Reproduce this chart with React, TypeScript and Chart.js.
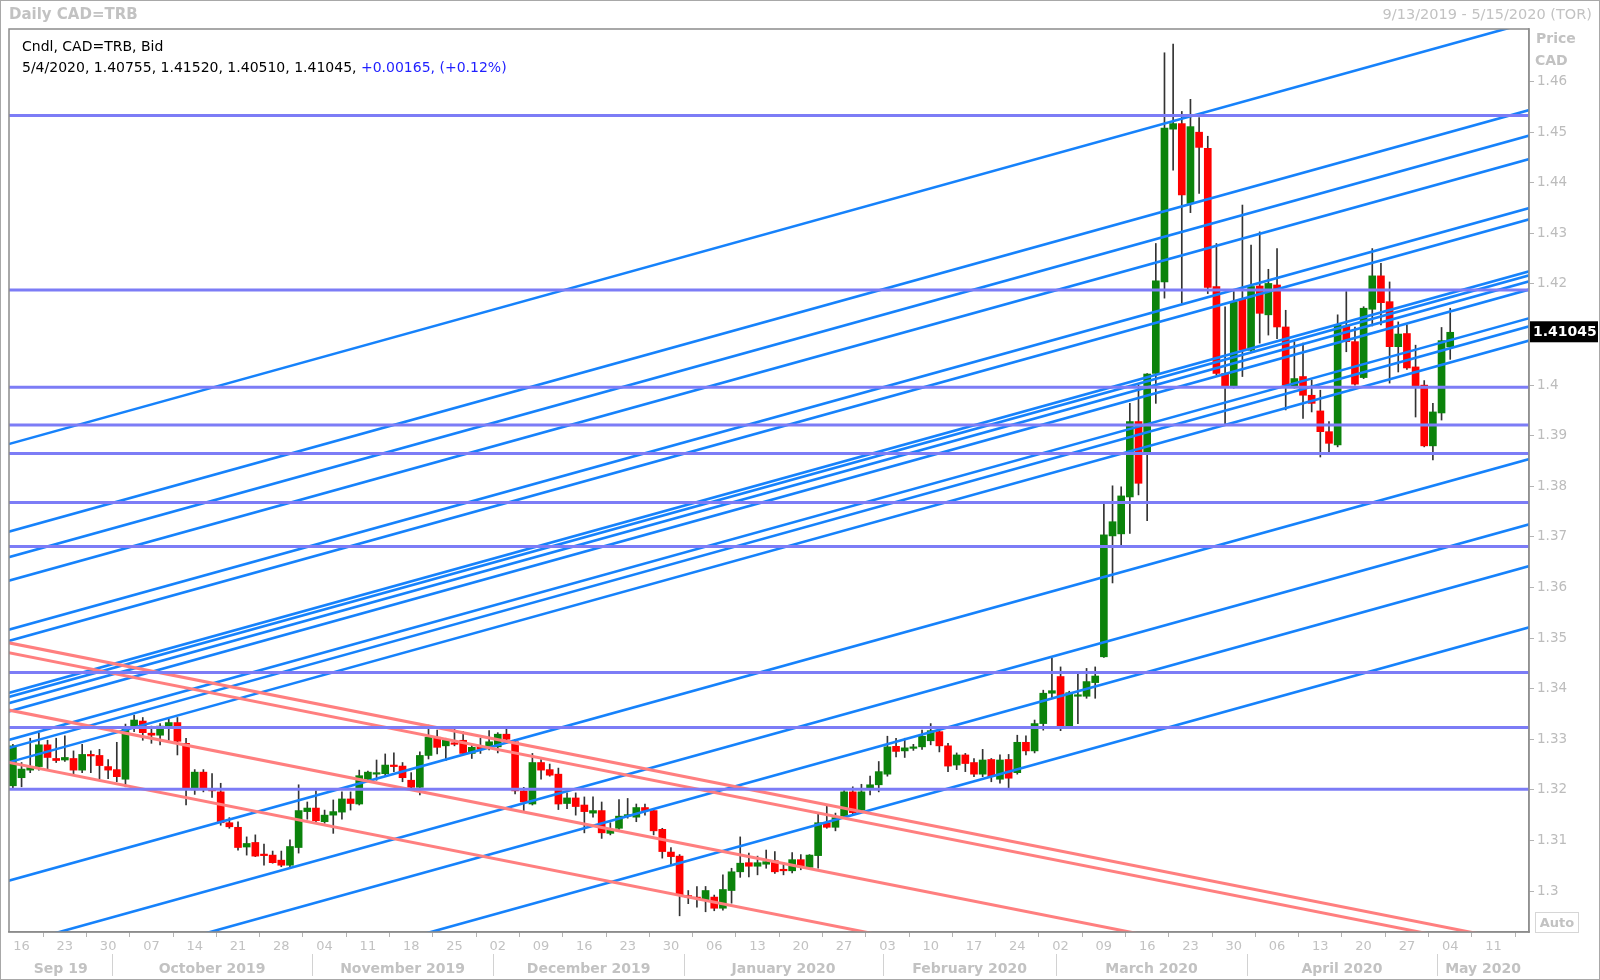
import React, { useEffect, useRef } from 'react';
import { Chart, registerables } from 'chart.js';

Chart.register(...registerables);

// ---- Data (trading-day index 0 = 9/13/2019) ----
const OPEN = [
  1.3208, 1.3224, 1.3239, 1.3246, 1.3289, 1.3262, 1.3259, 1.3262, 1.3239, 1.3270,
  1.3268, 1.3246, 1.3240, 1.3221, 1.3324, 1.3336, 1.3312, 1.3308, 1.3325, 1.3333,
  1.3292, 1.3200, 1.3235, 1.3200, 1.3196, 1.3135, 1.3126, 1.3087, 1.3096, 1.3073,
  1.3071, 1.3061, 1.3051, 1.3086, 1.3157, 1.3164, 1.3137, 1.3150, 1.3156, 1.3182,
  1.3172, 1.3221, 1.3231, 1.3232, 1.3249, 1.3247, 1.3219, 1.3205, 1.3268, 1.3304,
  1.3287, 1.3292, 1.3298, 1.3272, 1.3284, 1.3285, 1.3285, 1.3310, 1.3295, 1.3198,
  1.3172, 1.3254, 1.3240, 1.3231, 1.3173, 1.3184, 1.3170, 1.3154, 1.3159, 1.3114,
  1.3124, 1.3148, 1.3146, 1.3165, 1.3159, 1.3122, 1.3077, 1.3069, 1.2990, 1.2987,
  1.2982, 1.2988, 1.2966, 1.3001, 1.3038, 1.3056, 1.3049, 1.3053, 1.3060, 1.3043,
  1.3040, 1.3062, 1.3047, 1.3070, 1.3135, 1.3126, 1.3148, 1.3196, 1.3160, 1.3203,
  1.3210, 1.3231, 1.3286, 1.3277, 1.3282, 1.3285, 1.3297, 1.3315, 1.3287, 1.3249,
  1.3269, 1.3254, 1.3231, 1.3260, 1.3221, 1.3260, 1.3234, 1.3294, 1.3277, 1.3331,
  1.3391, 1.3424, 1.3325, 1.3385, 1.3385, 1.3412, 1.3463, 1.3702, 1.3706, 1.3779,
  1.3928, 1.3866, 1.4023, 1.4204, 1.4506, 1.4517, 1.4359, 1.4500, 1.4468, 1.4195,
  1.4023, 1.3997, 1.4170, 1.4069, 1.4196, 1.4139, 1.4198, 1.4115, 1.3998, 1.4017,
  1.3980, 1.3949, 1.3908, 1.3882, 1.4117, 1.4086, 1.4015, 1.4150, 1.4216, 1.4165,
  1.4076, 1.4102, 1.4036, 1.4000, 1.3880, 1.3945, 1.40755,
];
const HIGH = [
  1.3290, 1.3254, 1.3302, 1.3312, 1.3298, 1.3302, 1.3307, 1.3277, 1.3290, 1.3277,
  1.3280, 1.3260, 1.3294, 1.3330, 1.3348, 1.3343, 1.3326, 1.3331, 1.3341, 1.3343,
  1.3302, 1.3240, 1.3240, 1.3232, 1.3213, 1.3145, 1.3137, 1.3107, 1.3111, 1.3093,
  1.3079, 1.3079, 1.3101, 1.3210, 1.3176, 1.3198, 1.3160, 1.3180, 1.3196, 1.3196,
  1.3239, 1.3237, 1.3259, 1.3271, 1.3273, 1.3254, 1.3234, 1.3275, 1.3328, 1.3318,
  1.3302, 1.3320, 1.3315, 1.3289, 1.3302, 1.3317, 1.3313, 1.3320, 1.3300, 1.3205,
  1.3272, 1.3260, 1.3251, 1.3243, 1.3194, 1.3194, 1.3186, 1.3186, 1.3176, 1.3135,
  1.3181, 1.3183, 1.3172, 1.3172, 1.3161, 1.3124, 1.3086, 1.3072, 1.3001, 1.3009,
  1.3009, 1.2992, 1.3032, 1.3045, 1.3107, 1.3075, 1.3069, 1.3081, 1.3078, 1.3056,
  1.3076, 1.3072, 1.3072, 1.3152, 1.3170, 1.3154, 1.3201, 1.3206, 1.3211, 1.3227,
  1.3256, 1.3306, 1.3302, 1.3302, 1.3290, 1.3318, 1.3331, 1.3318, 1.3292, 1.3273,
  1.3272, 1.3262, 1.3280, 1.3262, 1.3269, 1.3270, 1.3308, 1.3307, 1.3338, 1.3397,
  1.3460, 1.3443, 1.3395, 1.3433, 1.3440, 1.3443, 1.3768, 1.3801, 1.3799, 1.3964,
  1.4000, 1.4023, 1.4280, 1.4657, 1.4674, 1.4541, 1.4565, 1.4529, 1.4492, 1.4280,
  1.4155, 1.4185, 1.4356, 1.4277, 1.4303, 1.4229, 1.4270, 1.4148, 1.4086, 1.4083,
  1.4010, 1.3990, 1.3928, 1.4139, 1.4185, 1.4115, 1.4155, 1.4270, 1.4241, 1.4204,
  1.4125, 1.4119, 1.4079, 1.4009, 1.3964, 1.4114, 1.41520,
];
const LOW = [
  1.3203, 1.3206, 1.3234, 1.3239, 1.3241, 1.3254, 1.3256, 1.3232, 1.3234, 1.3234,
  1.3222, 1.3222, 1.3216, 1.3206, 1.3315, 1.3298, 1.3292, 1.3289, 1.3298, 1.3269,
  1.3170, 1.3191, 1.3196, 1.3185, 1.3130, 1.3124, 1.3081, 1.3071, 1.3068, 1.3051,
  1.3055, 1.3048, 1.3045, 1.3075, 1.3142, 1.3136, 1.3134, 1.3114, 1.3142, 1.3160,
  1.3170, 1.3219, 1.3219, 1.3226, 1.3236, 1.3216, 1.3203, 1.3190, 1.3261, 1.3271,
  1.3258, 1.3287, 1.3271, 1.3262, 1.3272, 1.3279, 1.3273, 1.3292, 1.3192, 1.3159,
  1.3170, 1.3221, 1.3227, 1.3161, 1.3163, 1.3150, 1.3115, 1.3146, 1.3104, 1.3111,
  1.3122, 1.3144, 1.3137, 1.3150, 1.3111, 1.3065, 1.3051, 1.2951, 1.2975, 1.2968,
  1.2959, 1.2961, 1.2962, 1.2976, 1.3027, 1.3028, 1.3032, 1.3045, 1.3035, 1.3032,
  1.3036, 1.3042, 1.3045, 1.3045, 1.3124, 1.3119, 1.3147, 1.3152, 1.3157, 1.3190,
  1.3196, 1.3227, 1.3265, 1.3264, 1.3278, 1.3280, 1.3289, 1.3275, 1.3236, 1.3240,
  1.3236, 1.3226, 1.3226, 1.3216, 1.3213, 1.3203, 1.3231, 1.3269, 1.3273, 1.3318,
  1.3381, 1.3317, 1.3324, 1.3331, 1.3381, 1.3381, 1.3462, 1.3609, 1.3684, 1.3707,
  1.3783, 1.3732, 1.3964, 1.4172, 1.4425, 1.4162, 1.4341, 1.4379, 1.4181, 1.4020,
  1.3924, 1.3994, 1.4017, 1.4066, 1.4083, 1.4099, 1.4092, 1.3951, 1.3994, 1.3934,
  1.3947, 1.3858, 1.3866, 1.3878, 1.4066, 1.4000, 1.4013, 1.4117, 1.4119, 1.4004,
  1.4026, 1.4031, 1.3937, 1.3878, 1.3852, 1.3931, 1.40510,
];
const CLOSE = [
  1.3287, 1.3241, 1.3244, 1.3289, 1.3264, 1.3258, 1.3264, 1.3239, 1.3270, 1.3267,
  1.3248, 1.3239, 1.3226, 1.3320, 1.3338, 1.3313, 1.3308, 1.3326, 1.3333, 1.3296,
  1.3201, 1.3235, 1.3201, 1.3198, 1.3135, 1.3127, 1.3086, 1.3094, 1.3069, 1.3070,
  1.3056, 1.3051, 1.3088, 1.3159, 1.3164, 1.3139, 1.3150, 1.3157, 1.3182, 1.3173,
  1.3228, 1.3235, 1.3232, 1.3249, 1.3246, 1.3224, 1.3205, 1.3268, 1.3304, 1.3284,
  1.3300, 1.3290, 1.3272, 1.3284, 1.3280, 1.3295, 1.3310, 1.3300, 1.3198, 1.3176,
  1.3254, 1.3239, 1.3229, 1.3172, 1.3184, 1.3167, 1.3157, 1.3159, 1.3115, 1.3120,
  1.3148, 1.3151, 1.3165, 1.3159, 1.3119, 1.3078, 1.3068, 1.2992, 1.2988, 1.2985,
  1.3001, 1.2966, 1.3003, 1.3038, 1.3055, 1.3049, 1.3056, 1.3058, 1.3038, 1.3040,
  1.3062, 1.3048, 1.3071, 1.3135, 1.3126, 1.3145, 1.3196, 1.3155, 1.3196, 1.3210,
  1.3236, 1.3285, 1.3276, 1.3283, 1.3284, 1.3306, 1.3317, 1.3287, 1.3247, 1.3269,
  1.3252, 1.3231, 1.3259, 1.3226, 1.3259, 1.3223, 1.3294, 1.3277, 1.3331, 1.3391,
  1.3396, 1.3325, 1.3392, 1.3387, 1.3414, 1.3425, 1.3704, 1.3730, 1.3781, 1.3928,
  1.3806, 1.4022, 1.4206, 1.4508, 1.4517, 1.4376, 1.4511, 1.4470, 1.4193, 1.4023,
  1.3997, 1.4165, 1.4069, 1.4195, 1.4142, 1.4201, 1.4115, 1.4000, 1.4013, 1.3980,
  1.3964, 1.3908, 1.3885, 1.4119, 1.4086, 1.4002, 1.4152, 1.4216, 1.4163, 1.4076,
  1.4101, 1.4034, 1.3997, 1.3880, 1.3947, 1.4088, 1.41045,
];
const LAST_DATE = '5/4/2020';

// Monday tick labels (first Monday = trading day 1, one every 5 trading days)
const WEEK_LABELS = [
  '16', '23', '30', '07', '14', '21', '28', '04', '11', '18', '25', '02', '09', '16', '23', '30', '06', '13',
  '20', '27', '03', '10', '17', '24', '02', '09', '16', '23', '30', '06', '13', '20', '27', '04', '11',
];
const MONTH_LABELS = [
  'Sep 19', 'October 2019', 'November 2019', 'December 2019', 'January 2020',
  'February 2020', 'March 2020', 'April 2020', 'May 2020',
];
const MONTH_STARTS = [0, 12, 35, 56, 78, 101, 121, 143, 165];

const Y_TICKS = [1.3, 1.31, 1.32, 1.33, 1.34, 1.35, 1.36, 1.37, 1.38, 1.39, 1.4, 1.41, 1.42, 1.43, 1.44, 1.45, 1.46];
const Y_LABELS = ['1.3', '1.31', '1.32', '1.33', '1.34', '1.35', '1.36', '1.37', '1.38', '1.39', '1.4', '', '1.42', '1.43', '1.44', '1.45', '1.46'];

// Horizontal levels
const H_LEVELS = [1.4533, 1.4188, 1.3996, 1.3921, 1.3865, 1.3768, 1.3681, 1.3432, 1.3323, 1.3201];

// Rising trend lines: value at trading day -1 and at trading day 176
const LINE_X0 = -1;
const LINE_X1 = 176;
const UP_START = [
  1.3881, 1.37077, 1.36573, 1.36108, 1.3514, 1.34918, 1.3389, 1.3381, 1.33689, 1.33527,
  1.32962, 1.32801, 1.32519, 1.30178, 1.28888, 1.28061, 1.26851,
];
const UP_END = [
  1.47213, 1.4548, 1.44976, 1.44511, 1.43543, 1.43321, 1.42293, 1.42213, 1.42092, 1.4193,
  1.41365, 1.41204, 1.40922, 1.38581, 1.37291, 1.36464, 1.35254,
];
// Falling trend lines
const DOWN_START = [1.34924, 1.34727, 1.33594, 1.32558];
const DOWN_END = [1.28927, 1.2873, 1.27597, 1.26561];

const X_MIN = -0.45;
const X_MAX = 175.1;
const Y_MIN = 1.2919;
const Y_MAX = 1.4704;

const FONT = 'DejaVu Sans';
const GRAY_TEXT = '#c2c2c2';

export default function App() {
  const ref = useRef<HTMLCanvasElement>(null);

  useEffect(() => {
    const canvas = ref.current;
    if (!canvas) return;
    const n = CLOSE.length;
    const idx = CLOSE.map((_, i) => i);
    const colorOf = (i: number) => (CLOSE[i] >= OPEN[i] ? '#0b830b' : '#ff0000');

    const lineDs = (x0: number, y0: number, x1: number, y1: number, color: string, width: number) => ({
      type: 'line' as const,
      data: [{ x: x0, y: y0 }, { x: x1, y: y1 }],
      borderColor: color,
      borderWidth: width,
      pointRadius: 0,
      pointHoverRadius: 0,
      fill: false,
      clip: 0,
      order: 0,
      parsing: false as const,
    });

    const datasets: any[] = [];
    H_LEVELS.forEach((v) => datasets.push(lineDs(LINE_X0, v, LINE_X1, v, '#7c7cf6', 3)));
    DOWN_START.forEach((v, k) => datasets.push(lineDs(LINE_X0, v, LINE_X1, DOWN_END[k], '#ff7f7f', 3)));
    UP_START.forEach((v, k) => datasets.push(lineDs(LINE_X0, v, LINE_X1, UP_END[k], '#1682fb', 2.6)));

    datasets.push({
      type: 'bar',
      data: idx.map((i) => ({ x: i, y: [Math.min(OPEN[i], CLOSE[i]), Math.max(OPEN[i], CLOSE[i])] })),
      backgroundColor: idx.map(colorOf),
      borderWidth: 0,
      barThickness: 7,
      minBarLength: 1.5,
      grouped: false,
      order: 1,
    });
    datasets.push({
      type: 'bar',
      data: idx.map((i) => ({ x: i, y: [LOW[i], HIGH[i]] })),
      backgroundColor: '#333333',
      borderWidth: 0,
      barThickness: 1,
      grouped: false,
      order: 2,
    });

    const monthCenters = MONTH_STARTS.map((s, k) => {
      const a = k === 0 ? X_MIN : s - 0.5;
      const b = k === MONTH_STARTS.length - 1 ? X_MAX : MONTH_STARTS[k + 1] - 0.5;
      return (a + b) / 2;
    });

    const decor = {
      id: 'decor',
      beforeDraw(chart: any) {
        const c = chart.ctx;
        c.save();
        c.fillStyle = '#ffffff';
        c.fillRect(0, 0, chart.width, chart.height);
        c.restore();
      },
      afterDraw(chart: any) {
        const c = chart.ctx;
        const a = chart.chartArea;
        const xs = chart.scales.x;
        const ys = chart.scales.y;
        c.save();
        // month separators
        c.strokeStyle = '#d2d2d2';
        c.lineWidth = 1;
        MONTH_STARTS.slice(1).forEach((s) => {
          const px = Math.round(xs.getPixelForValue(s - 0.5)) + 0.5;
          c.beginPath();
          c.moveTo(px, a.bottom + 22);
          c.lineTo(px, chart.height - 4);
          c.stroke();
        });
        // plot frame
        c.strokeStyle = '#8c8c8c';
        c.lineWidth = 1.5;
        c.strokeRect(a.left, a.top, a.right - a.left, a.bottom - a.top);
        // last price tag
        const last = CLOSE[n - 1];
        const py = ys.getPixelForValue(last);
        c.fillStyle = '#000000';
        c.fillRect(a.right + 1, py - 11, chart.width - a.right - 3, 21);
        c.fillStyle = '#ffffff';
        c.font = `bold 14px "${FONT}"`;
        c.textBaseline = 'middle';
        c.textAlign = 'left';
        c.fillText(last.toFixed(5), a.right + 4, py);
        // outer frame
        c.strokeStyle = '#a8a8a8';
        c.lineWidth = 1;
        c.strokeRect(0.5, 0.5, chart.width - 1, chart.height - 1);
        c.restore();
      },
    };

    const chart = new Chart(canvas, {
      type: 'bar',
      data: { datasets },
      options: {
        animation: false,
        responsive: false,
        devicePixelRatio: 1,
        events: [],
        layout: { padding: { left: 9, top: 29, right: 0, bottom: 0 } },
        plugins: { legend: { display: false }, tooltip: { enabled: false }, title: { display: false } },
        scales: {
          x: {
            type: 'linear',
            position: 'bottom',
            min: X_MIN,
            max: X_MAX,
            offset: false,
            weight: 0,
            afterBuildTicks: (s: any) => {
              s.ticks = WEEK_LABELS.map((_, k) => ({ value: 1 + 5 * k }));
            },
            afterFit: (s: any) => {
              s.height = 18;
            },
            ticks: {
              autoSkip: false,
              maxRotation: 0,
              padding: 2,
              color: GRAY_TEXT,
              font: { family: FONT, size: 13 },
              callback: (_v: any, k: number) => WEEK_LABELS[k],
            },
            grid: { drawOnChartArea: false, tickLength: 5, color: '#b4b4b4' },
            border: { color: '#8c8c8c', width: 1.5 },
          },
          xm: {
            type: 'linear',
            position: 'bottom',
            min: X_MIN,
            max: X_MAX,
            offset: false,
            weight: 1,
            afterBuildTicks: (s: any) => {
              s.ticks = monthCenters.map((v) => ({ value: v }));
            },
            afterFit: (s: any) => {
              s.height = 30;
            },
            ticks: {
              autoSkip: false,
              maxRotation: 0,
              padding: 3,
              color: GRAY_TEXT,
              font: { family: FONT, size: 14, weight: 'bold' },
              callback: (_v: any, k: number) => MONTH_LABELS[k],
            },
            grid: { display: false },
            border: { display: false },
          },
          y: {
            type: 'linear',
            position: 'right',
            min: Y_MIN,
            max: Y_MAX,
            afterBuildTicks: (s: any) => {
              s.ticks = Y_TICKS.map((v) => ({ value: v }));
            },
            afterFit: (s: any) => {
              s.width = 71;
            },
            ticks: {
              autoSkip: false,
              padding: 3,
              color: '#bcbcbc',
              font: { family: FONT, size: 13.5 },
              callback: (_v: any, k: number) => Y_LABELS[k],
            },
            grid: { drawOnChartArea: false, tickLength: 5, color: '#b4b4b4' },
            border: { color: '#9a9a9a', width: 1.5 },
          },
        },
      } as any,
      plugins: [decor],
    });
    return () => chart.destroy();
  }, []);

  const n = CLOSE.length;
  const o = OPEN[n - 1];
  const h = HIGH[n - 1];
  const l = LOW[n - 1];
  const cl = CLOSE[n - 1];
  const chg = cl - CLOSE[n - 2];
  const pct = (chg / CLOSE[n - 2]) * 100;
  const sign = chg >= 0 ? '+' : '-';

  const txt: React.CSSProperties = { position: 'absolute', whiteSpace: 'nowrap', fontFamily: FONT, lineHeight: '18px' };

  return (
    <div style={{ position: 'fixed', left: 0, top: 0, width: 1600, height: 980, background: '#fff', overflow: 'hidden' }}>
      <canvas ref={ref} width={1600} height={980} style={{ position: 'absolute', left: 0, top: 0, width: 1600, height: 980 }} />
      <div style={{ ...txt, left: 9, top: 5, fontSize: 15, fontWeight: 'bold', color: GRAY_TEXT }}>Daily CAD=TRB</div>
      <div style={{ ...txt, right: 8, top: 5, fontSize: 14.5, color: GRAY_TEXT }}>9/13/2019 - 5/15/2020 (TOR)</div>
      <div style={{ ...txt, left: 22, top: 37, fontSize: 14, color: '#000' }}>Cndl, CAD=TRB, Bid</div>
      <div style={{ ...txt, left: 22, top: 58, fontSize: 14, color: '#000' }}>
        {`${LAST_DATE}, ${o.toFixed(5)}, ${h.toFixed(5)}, ${l.toFixed(5)}, ${cl.toFixed(5)}, `}
        <span style={{ color: '#1f1fff' }}>{`${sign}${Math.abs(chg).toFixed(5)}, (${sign}${Math.abs(pct).toFixed(2)}%)`}</span>
      </div>
      <div style={{ ...txt, left: 1536, top: 29, fontSize: 14, fontWeight: 'bold', color: GRAY_TEXT }}>Price</div>
      <div style={{ ...txt, left: 1535, top: 51, fontSize: 14, fontWeight: 'bold', color: GRAY_TEXT }}>CAD</div>
      <div
        style={{
          ...txt,
          left: 1535,
          top: 912,
          width: 42,
          height: 19,
          lineHeight: '19px',
          border: '1px solid #d6d6d6',
          textAlign: 'center',
          fontSize: 13,
          fontWeight: 'bold',
          color: GRAY_TEXT,
        }}
      >
        Auto
      </div>
    </div>
  );
}
